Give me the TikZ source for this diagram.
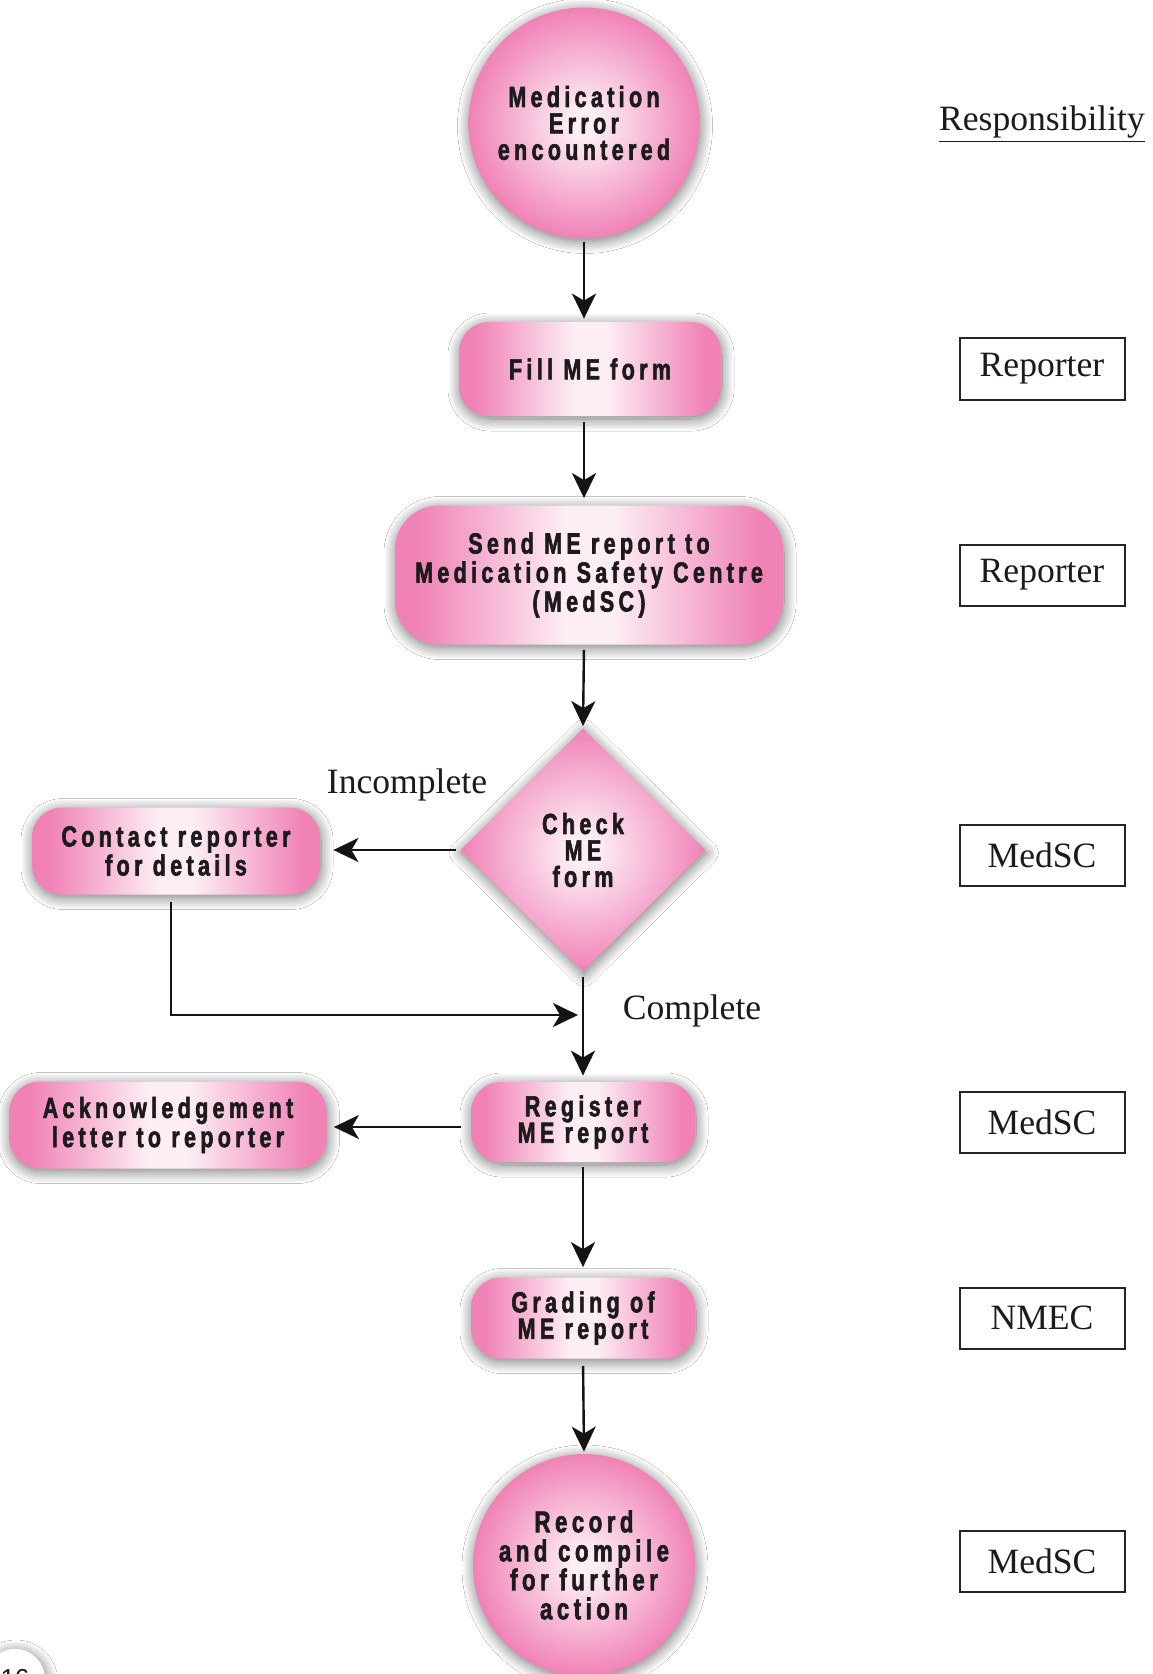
\documentclass[tikz,border=0pt]{standalone}
\usepackage{fontspec}
\setmainfont{Liberation Serif}
\newfontfamily\heavyfont[FakeStretch=0.74,LetterSpace=15,FakeBold=2]{Liberation Sans}
\newfontfamily\pagefont{Liberation Sans}
\usetikzlibrary{shapes.geometric,arrows.meta,shadows.blur}
\definecolor{pinkout}{RGB}{240,130,182}
\definecolor{pinkin}{RGB}{253,238,245}
\definecolor{textdark}{RGB}{28,26,27}
\pgfdeclareradialshading{pinkball}{\pgfpoint{0bp}{0bp}}{color(0bp)=(pinkin); color(3bp)=(pinkin); color(25bp)=(pinkout); color(50bp)=(pinkout)}
\pgfdeclarehorizontalshading{pinkbar}{100bp}{color(0bp)=(pinkout); color(28bp)=(pinkout); color(47bp)=(pinkin); color(53bp)=(pinkin); color(72bp)=(pinkout); color(100bp)=(pinkout)}
\tikzset{
  softshadow/.style={blur shadow={shadow blur steps=14, shadow xshift=0.5pt, shadow yshift=-1.5pt, shadow blur radius=6pt, shadow opacity=55}},
  heavy/.style={font=\heavyfont\bfseries\fontsize{14.5}{13.2}\selectfont, text=textdark, align=center},
  pbox/.style={rectangle, rounded corners=15pt, shading=pinkbar, draw=none, inner sep=0pt, heavy, softshadow},
  pball/.style={circle, shading=pinkball, draw=none, inner sep=0pt, heavy, softshadow},
  pdiam/.style={diamond, shading=pinkball, draw=none, inner sep=0pt, heavy, softshadow},
  rbox/.style={draw=black!85, line width=1pt, minimum width=82.5pt, minimum height=30.5pt, inner sep=0pt, font=\fontsize{17.8}{20}\selectfont, text=textdark},
  lbl/.style={font=\fontsize{17.8}{20}\selectfont, text=textdark, inner sep=0pt},
  arr/.style={-{Stealth[length=12.5pt,width=12pt,inset=3.5pt]}, line width=1.2pt, draw=black!92, shorten <=2.5pt, shorten >=2pt}
}
\begin{document}
\begin{tikzpicture}[x=0.5pt,y=-0.5pt]
\useasboundingbox (0,0) rectangle (1152,1674);
\fill[white] (0,0) rectangle (1152,1674);

% flow nodes
\node[pball, minimum size=115.5pt] (start) at (584,123) {Medication\\Error\\encountered};
\node[pbox, minimum width=131pt, minimum height=47pt] (fill) at (590,369) {Fill ME form};
\node[pbox, minimum width=194pt, minimum height=69.5pt, rounded corners=22pt] (send) at (589,575) {Send ME report to\\Medication Safety Centre\\(MedSC)};
\node[pdiam, minimum width=122.5pt, minimum height=121.5pt] (check) at (583,850) {Check\\ME\\form};
\node[pbox, minimum width=144pt, minimum height=43.5pt] (contact) at (176,851) {Contact reporter\\for details};
\node[pbox, minimum width=112pt, minimum height=40pt] (register) at (583,1122) {Register\\ME report};
\node[pbox, minimum width=158.5pt, minimum height=43.5pt] (ack) at (168,1125) {Acknowledgement\\letter to reporter};
\node[pbox, minimum width=112pt, minimum height=40.5pt] (grading) at (583,1318) {Grading of\\ME report};
\node[pball, minimum size=111pt, font=\heavyfont\bfseries\fontsize{15}{14.5}\selectfont] (record) at (584,1565) {Record\\and compile\\for further\\action};

\coordinate (merge) at (583,1015);

% labels
\node[lbl] (incomplete) at (407,785) {Incomplete};
\node[lbl] (complete) at (692,1011) {Complete};

% responsibility column
\node[lbl] (resp) at (1042,124) {\underline{Responsibility}};
\node[rbox] (r1) at (1042,369) {Reporter};
\node[rbox] (r2) at (1042,575) {Reporter};
\node[rbox] (r3) at (1042,855) {MedSC};
\node[rbox] (r4) at (1042,1122) {MedSC};
\node[rbox] (r5) at (1042,1318) {NMEC};
\node[rbox] (r6) at (1042,1561) {MedSC};

% page number
\node[circle, fill=white, minimum size=30pt, inner sep=0pt, softshadow, font=\pagefont\fontsize{13}{13}\selectfont, text=textdark] (page) at (15,1679) {16};

% connectors
\draw[arr, shorten <=1.5pt, shorten >=1.5pt] (start.south) -- (start.south |- fill.north);
\draw[arr, shorten <=3pt, shorten >=3.5pt] (start.south |- fill.south) -- (start.south |- send.north);
\draw[arr, shorten >=1pt] (start.south |- send.south) -- (check.north);
\draw[arr, shorten <=2pt, shorten >=6.5pt] (check.west) -- (contact.east |- check.west);
\draw[arr, shorten >=3pt] (check.south) -- (register.north);
\draw[arr, shorten <=3.5pt, shorten >=2.5pt] ([xshift=-2.5pt]contact.south) |- (merge);
\draw[arr, shorten <=5pt, shorten >=3.5pt] ([yshift=-2.5pt]register.west) -- ([yshift=-2.5pt]register.west -| ack.east);
\draw[arr, shorten >=5pt] (register.south) -- (grading.north);
\draw[arr, shorten <=3.5pt, shorten >=1pt] (grading.south) -- (record.north);
\end{tikzpicture}
\end{document}
